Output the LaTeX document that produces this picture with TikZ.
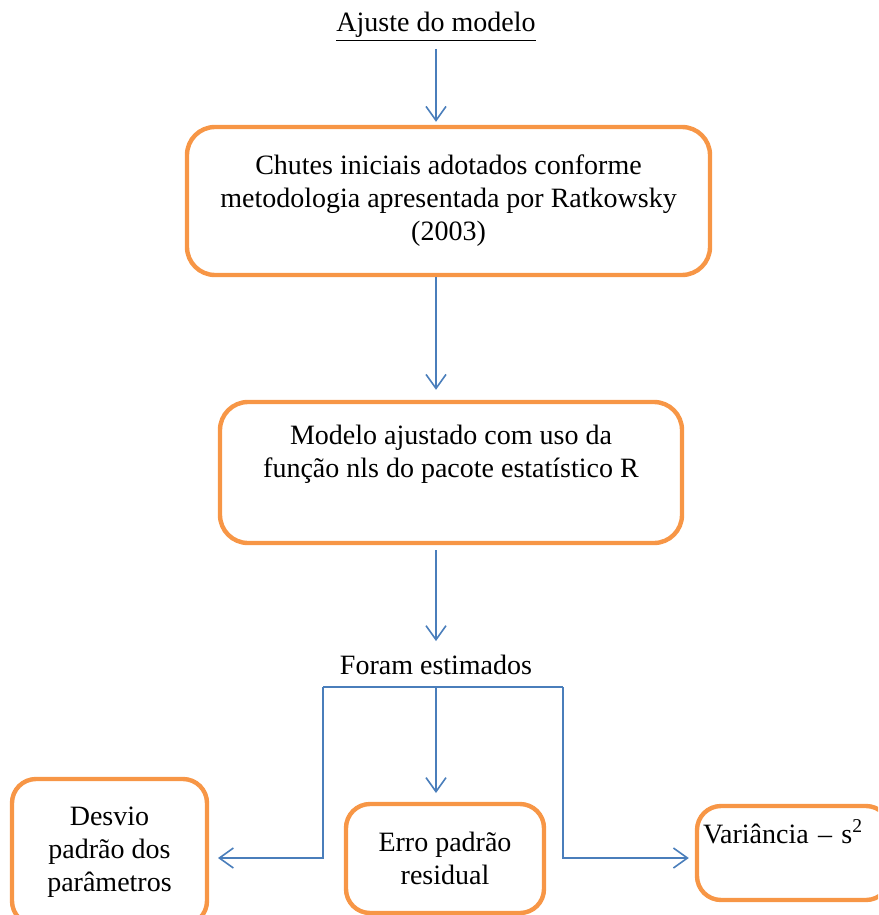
\documentclass[tikz,border=0pt]{standalone}
\usepackage{fontspec}
\setmainfont{Liberation Serif}
\usepackage{xcolor}
\usepackage{tikz}
\usetikzlibrary{arrows.meta}
\usetikzlibrary{positioning}

\definecolor{boxorange}{HTML}{F79646}
\definecolor{lineblue}{HTML}{4A7EBB}

\begin{document}
\begin{tikzpicture}[x=0.5pt, y=-0.5pt,
    txt/.style={font=\fontsize{14}{16.5}\selectfont},
    roundbox/.style={txt, draw=boxorange, line width=2.2pt,
      rounded corners=14pt, align=center, inner sep=3pt},
    flowline/.style={draw=lineblue, line width=0.8pt},
    flowarrow/.style={flowline, -{Straight Barb[length=7pt,width=10pt]}}]

    \useasboundingbox (0,0) rectangle (878,915);
    \clip (0,0) rectangle (878,915);

    \node[txt] (title) at (436,27) {\underline{Ajuste do modelo}};

    \node[roundbox, minimum width=261.5pt, minimum height=74pt]
    (chutes) at (448.5,201)
    {Chutes iniciais adotados conforme\\
      metodologia apresentada por Ratkowsky\\(2003)};

    \node[roundbox, minimum width=231pt, minimum height=70.5pt]
    (modelo) at (451,472.5)
    {Modelo ajustado com uso da\\
      função nls do pacote estatístico R\\ \strut};

    \node[txt] (est) at (436,665) {Foram estimados};

    \node[roundbox, minimum width=97.5pt, minimum height=73pt,
      rounded corners=12pt]
    (desvio) at (109.5,852) {Desvio\\padrão dos\\parâmetros};
    \node[roundbox, minimum width=99pt, minimum height=54.5pt,
      rounded corners=12pt]
    (erro) at (445,858.5) {Erro padrão\\residual};
    \node[roundbox, minimum width=96.5pt, minimum height=47pt,
      rounded corners=12pt, text width=90.5pt, align=left]
    (var) at (793.5,853) {Variância – s\textsuperscript{2}\\ \strut};

    % main flow
    \draw[flowarrow, shorten >=1.5pt]
    (title.south) -- (title |- chutes.north);
    \draw[flowarrow, shorten >=5pt]
    (chutes.south -| title) -- (modelo.north -| title);
    \draw[flowarrow, shorten <=2.5pt, shorten >=3.5pt]
    (modelo.south -| title) -- (est.north);

    % branches
    \coordinate (bl) at (323,687);
    \coordinate (br) at (563,687);
    \draw[flowline] (bl) -- (br);
    \draw[flowarrow, shorten >=4.4pt]
    (bl) |- ([yshift=-3pt]desvio.east);
    \draw[flowarrow, shorten >=4.4pt]
    (est.south |- bl) -- (est.south |- erro.north);
    \draw[flowarrow, shorten >=3pt]
    (br) |- ([yshift=-2.5pt]var.west);

  \end{tikzpicture}
\end{document}
